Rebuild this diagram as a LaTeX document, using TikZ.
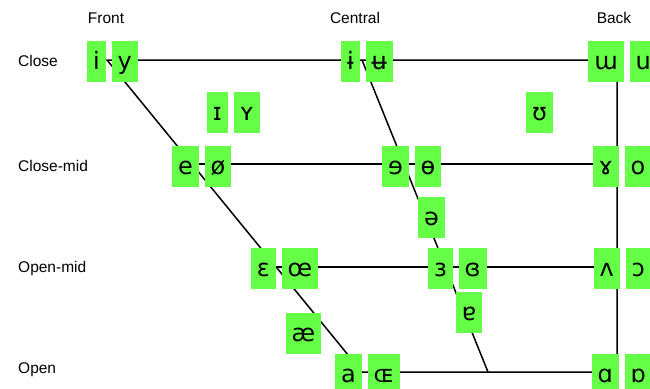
\documentclass[tikz,border=0pt]{standalone}
\usepackage{fontspec}
\setmainfont{Liberation Sans}
\newfontfamily\ipafont{DejaVu Sans}
\usepackage{tikz}
\usetikzlibrary{positioning}
\definecolor{vgreen}{RGB}{100,255,70}
\tikzstyle{line} = [draw, line width=1.5pt]
\tikzstyle{vowel} = [fill=vgreen, inner xsep=6pt, inner ysep=0pt, minimum height=41pt, text height=18pt, text depth=2.5pt, font=\ipafont\fontsize{24}{24}\selectfont]
\tikzstyle{heading} = [font=\fontsize{15.5}{16}\selectfont, inner sep=0pt]
\tikzstyle{row} = [heading, anchor=west]

\begin{document}
\begin{tikzpicture}[x=1pt, y=-1pt, node distance=5.5pt]
        \useasboundingbox (0,0) rectangle (650,388);
        % corners of the chart
        \coordinate (cf) at (107,60);
        \coordinate (cb) at (617,60);
        \coordinate (ob) at (617,372);
        \coordinate (of) at (362,372);
        \coordinate (cc) at (362,60);
        \coordinate (oc) at (488,372);
        \coordinate (cmf) at (192,164);
        \coordinate (cmb) at (617,164);
        \coordinate (omf) at (276,267);
        \coordinate (omb) at (617,267);
        \path[line] (cf) -- (cb) -- (ob) -- (of) -- cycle;
        \path[line] (cc) -- (oc);
        \path[line] (cmf) -- (cmb);
        \path[line] (omf) -- (omb);
        % headings
        \node[heading] (front) at (106,18) {Front};
        \node[heading] (central) at (355,18) {Central};
        \node[heading] (back) at (614,18) {Back};
        \node[row] (close) at (18,61) {Close};
        \node[row] (closemid) at (18,166) {Close-mid};
        \node[row] (openmid) at (18,268) {Open-mid};
        \node[row] (open) at (18,370) {Open};
        % close
        \node[vowel, anchor=east] (i) at (106,61.5) {i};
        \node[vowel, right=of i] (y) {y};
        \node[vowel, anchor=east] (ibar) at (360,61.5) {ɨ};
        \node[vowel, right=of ibar] (ubar) {ʉ};
        \node[vowel, anchor=east] (turnm) at (624,61.5) {ɯ};
        \node[vowel, right=of turnm] (u) {u};
        % near-close
        \node[vowel, anchor=east] (smalli) at (228,112.5) {ɪ};
        \node[vowel, right=of smalli] (smally) {ʏ};
        \node[vowel] (upsilon) at (539.5,112.5) {ʊ};
        % close-mid
        \node[vowel, anchor=east] (e) at (199,166.5) {e};
        \node[vowel, right=of e] (oslash) {ø};
        \node[vowel, anchor=east] (reve) at (409,166.5) {ɘ};
        \node[vowel, right=of reve] (baro) {ɵ};
        \node[vowel, anchor=east] (ramshorn) at (619,166.5) {ɤ};
        \node[vowel, right=of ramshorn] (o) {o};
        % mid
        \node[vowel] (schwa) at (431.5,217.5) {ə};
        % open-mid
        \node[vowel, anchor=east] (epsilon) at (276,268.5) {ɛ};
        \node[vowel, right=of epsilon] (oe) {œ};
        \node[vowel, anchor=east] (revepsilon) at (453,268.5) {ɜ};
        \node[vowel, right=of revepsilon] (closedrevepsilon) {ɞ};
        \node[vowel, anchor=east] (turnv) at (620,268.5) {ʌ};
        \node[vowel, right=of turnv] (openo) {ɔ};
        % near-open
        \node[vowel] (ae) at (303.5,333.5) {æ};
        \node[vowel] (turna) at (469,312.5) {ɐ};
        % open
        \node[vowel, anchor=east] (a) at (362,374.5) {a};
        \node[vowel, right=of a] (smalloe) {ɶ};
        \node[vowel, anchor=east] (scripta) at (619,374.5) {ɑ};
        \node[vowel, right=of scripta] (turnscripta) {ɒ};
    \end{tikzpicture}
\end{document}
